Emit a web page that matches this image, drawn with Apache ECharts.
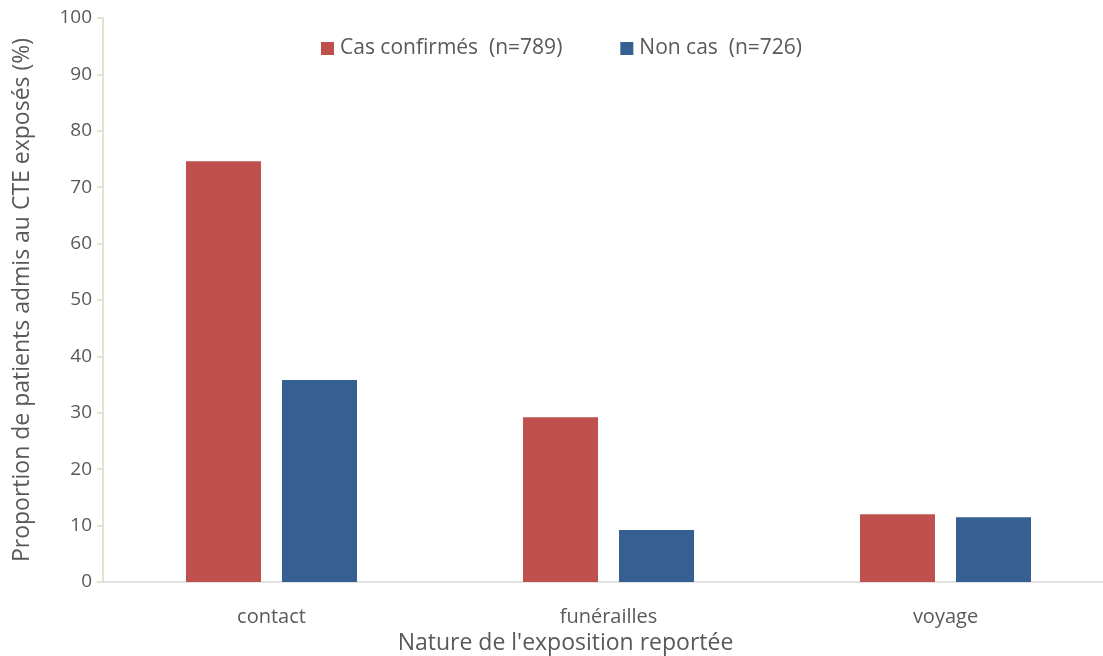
<!DOCTYPE html>
<html>
<head>
<meta charset="utf-8">
<script src="https://cdn.jsdelivr.net/npm/echarts@6/dist/echarts.min.js"></script>
<style>
  html, body { margin: 0; padding: 0; background: #fff; }
  #chart { width: 1103px; height: 656px; }
</style>
</head>
<body>
<div id="chart"></div>
<script>
const categories = ['contact', 'funérailles', 'voyage']
const casConfirmes = [74.6, 29.2, 12.0]
const nonCas = [35.8, 9.2, 11.5]
const seriesNames = ['Cas confirmés  (n=789)', 'Non cas  (n=726)']
const yTicks = [0, 10, 20, 30, 40, 50, 60, 70, 80, 90, 100]

const txt = '#595959'
const font = '"Open Sans", sans-serif'

const chart = echarts.init(document.getElementById('chart'))
chart.setOption({
  animation: false,
  textStyle: { fontFamily: font },
  legend: {
    data: seriesNames,
    top: 33,
    left: 316,
    itemWidth: 13,
    itemHeight: 13,
    itemGap: 58,
    icon: 'rect',
    textStyle: { color: txt, fontSize: 21, fontFamily: font, padding: [0, 0, 0, 1] },
  },
  grid: { left: 103, top: 18, right: -11, bottom: 74, outerBoundsMode: 'none' },
  xAxis: {
    type: 'category',
    data: categories,
    name: "Nature de l'exposition reportée",
    nameLocation: 'middle',
    nameGap: 49,
    nameTextStyle: { color: txt, fontSize: 23, fontFamily: font, padding: [0, 86, 0, 0] },
    axisLine: { lineStyle: { color: '#D9D9D9', width: 1.5 } },
    axisTick: { show: false },
    axisLabel: { color: txt, fontSize: 20, margin: 25, fontFamily: font },
  },
  yAxis: {
    type: 'value',
    min: 0,
    max: 100,
    interval: 10,
    name: 'Proportion de patients admis au CTE exposés (%)',
    nameLocation: 'middle',
    nameGap: 69,
    nameTextStyle: { color: txt, fontSize: 23, fontFamily: font },
    axisLine: { show: true, lineStyle: { color: '#DDD9C3', width: 1.5 } },
    axisTick: { show: true, length: 6, lineStyle: { color: '#DDD9C3', width: 1.5 } },
    splitLine: { show: false },
    axisLabel: {
      color: txt, fontSize: 19, margin: 11, fontFamily: font,
      formatter: v => yTicks.includes(v) ? String(v) : '',
    },
  },
  series: [
    {
      name: seriesNames[0],
      type: 'bar',
      data: casConfirmes,
      barWidth: 75,
      barGap: '28%',
      itemStyle: { color: '#C0504D' },
    },
    {
      name: seriesNames[1],
      type: 'bar',
      data: nonCas,
      barWidth: 75,
      itemStyle: { color: '#366092' },
    },
  ],
})
</script>
</body>
</html>
